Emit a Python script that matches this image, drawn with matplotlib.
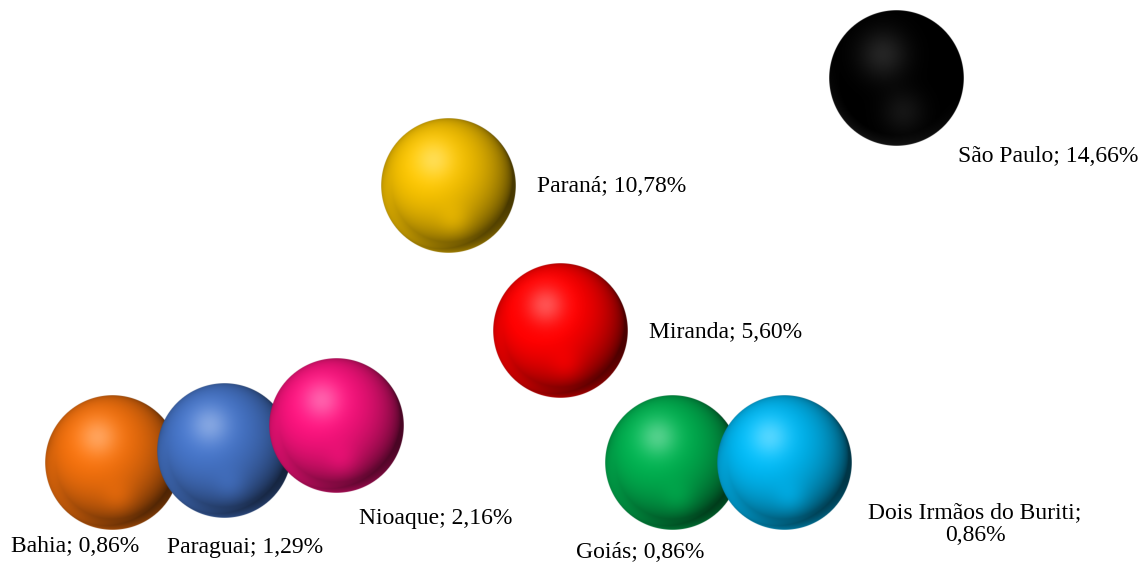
import numpy as np
import matplotlib.pyplot as plt
from matplotlib.colors import to_rgb

plt.rcParams['font.family'] = ['Liberation Serif', 'DejaVu Serif']

places = ["Bahia", "Paraguai", "Nioaque", "Paraná", "Miranda",
          "Goiás", "Dois Irmãos do Buriti", "São Paulo"]
positions = [1, 2, 3, 4, 5, 6, 7, 8]
percent = [0.86, 1.29, 2.16, 10.78, 5.60, 0.86, 0.86, 14.66]
colors = ["#EE6E0C", "#4472C4", "#F5127A", "#F2BE00",
          "#FF0000", "#00AD4E", "#00B4EE", "#000000"]

# label offsets (pixels from bubble centre) and alignment
label_offsets = [(-37, -85, "center"), (21, -97, "center"), (23, -93, "left"),
                 (89, -1, "left"), (89, -2, "left"), (-32, -91, "center"),
                 (191, -62, "center"), (62, -78, "left")]

W, H, DPI = 1144, 565, 100
R_PX = 67.5
XLIM = (0, W / 112.0)
Y_PER_PX = 13.8 / 384.0
YLIM = (0.86 - (H - 462) * Y_PER_PX, 0.86 + 462 * Y_PER_PX)


def sphere_rgba(color, n=271):
    base = np.array(to_rgb(color))
    t = np.linspace(-1, 1, n)
    X, Y = np.meshgrid(t, -t)
    r = np.sqrt(X ** 2 + Y ** 2)
    Z = np.sqrt(np.clip(1 - r ** 2, 0, None))
    L = np.array([-0.3, 0.35, 0.89])
    L = L / np.linalg.norm(L)
    diff = np.clip(X * L[0] + Y * L[1] + Z * L[2], 0, 1)
    shade = 0.3 + 0.78 * diff ** 0.8
    # soft glow low in the ball and a lighter rim at the lower-left edge
    glow = 0.12 * np.exp(-((X - 0.1) ** 2 + (Y + 0.55) ** 2) / 0.06)
    rim = 0.35 * np.clip((r - 0.84) / 0.16, 0, 1) * np.clip(-Y - X * 0.3, 0, 1)
    shade = shade + glow + rim
    rgb = base[None, None, :] * shade[..., None]
    spec = 0.35 * np.exp(-((X + 0.22) ** 2 + (Y - 0.38) ** 2) / 0.08)
    rgb = rgb + spec[..., None] * (1 - np.clip(rgb, 0, 1)) * 0.9
    if base.max() < 0.1:
        dark = 0.14 * np.exp(-((X + 0.2) ** 2 + (Y - 0.35) ** 2) / 0.13)
        dark += 0.08 * np.exp(-((X - 0.1) ** 2 + (Y + 0.5) ** 2) / 0.1)
        rgb = base[None, None, :] + (dark + 0.2 * rim)[..., None]
    rgb = np.clip(rgb, 0, 1)
    alpha = np.clip((1 - r) * n / 2 + 0.5, 0, 1)
    return np.dstack([rgb, alpha])


fig = plt.figure(figsize=(W / DPI, H / DPI), dpi=DPI)
ax = fig.add_axes([0, 0, 1, 1])
ax.set_xlim(*XLIM)
ax.set_ylim(*YLIM)
ax.axis("off")

rx = R_PX * (XLIM[1] - XLIM[0]) / W
ry = R_PX * (YLIM[1] - YLIM[0]) / H

for i, (name, x, y, c) in enumerate(zip(places, positions, percent, colors)):
    ax.imshow(sphere_rgba(c), extent=[x - rx, x + rx, y - ry, y + ry],
              aspect="auto", zorder=2 + i, interpolation="antialiased")
    dx, dy, ha = label_offsets[i]
    label = f"{name}; {y:.2f}%".replace(".", ",")
    if name == "Dois Irmãos do Buriti":
        label = label.replace("; ", ";\n")
    ax.annotate(label, (x, y), xytext=(dx, dy), textcoords="offset pixels",
                ha=ha, va="center", fontsize=17, color="black",
                linespacing=1.1, zorder=20)

fig.savefig("out.png", dpi=DPI)
